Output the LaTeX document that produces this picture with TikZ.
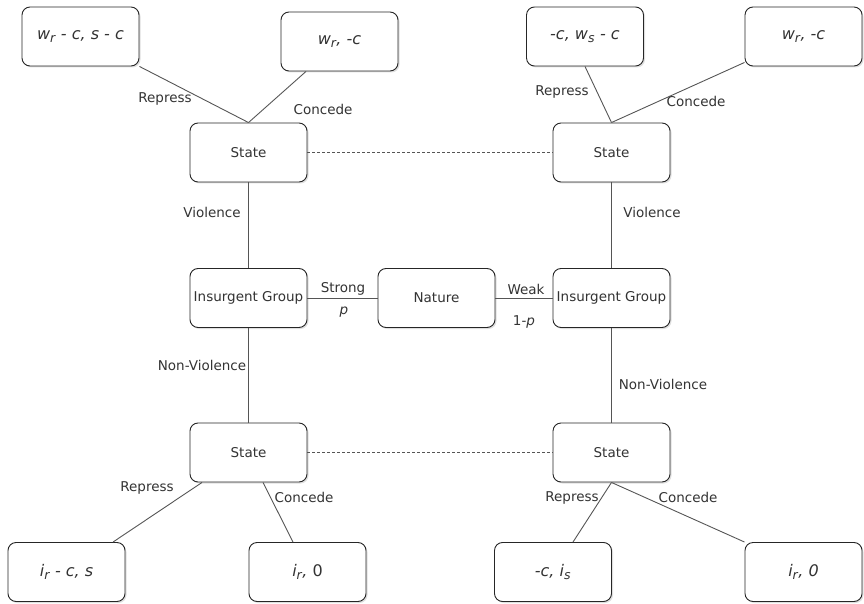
\documentclass[tikz,border=0pt]{standalone}
\usepackage{fontspec}
\setmainfont{DejaVu Sans}
\usetikzlibrary{shadows,calc}
\definecolor{edge}{HTML}{555555}
\definecolor{ink}{HTML}{333333}
\tikzset{
  box/.style={draw=black!85, line width=0.9pt, rounded corners=8pt, fill=white,
    minimum width=117pt, minimum height=59pt, inner sep=0pt, text=ink,
    font=\fontsize{13.5}{15}\selectfont,
    drop shadow={opacity=0.25, shadow xshift=1.5pt, shadow yshift=-1.5pt}},
  leaf/.style={box, font=\fontsize{16}{18}\selectfont\itshape},
  link/.style={draw=edge, line width=0.9pt},
  infoset/.style={draw=edge, line width=0.9pt, dash pattern=on 3pt off 2pt},
  lbl/.style={text=ink, font=\fontsize{13.5}{15}\selectfont, inner sep=0pt}
}
\newcommand{\subidx}[1]{\textsubscript{\fontsize{12.5}{13}\selectfont #1}}
\begin{document}
\begin{tikzpicture}[x=1pt, y=-1pt]
\useasboundingbox (0,0) rectangle (864,604);

% decision nodes
\node[box] (sTL) at (248.5,152.5) {State};
\node[box] (sTR) at (611.5,152.5) {State};
\node[box] (igL) at (248.5,298) {Insurgent Group};
\node[box] (nat) at (436.5,298) {Nature};
\node[box] (igR) at (611.5,298) {Insurgent Group};
\node[box] (sBL) at (248.5,452.5) {State};
\node[box] (sBR) at (611.5,452.5) {State};

% payoffs
\node[leaf] (tl1) at (80.5,36.5) {w\subidx{r} - c, s - c};
\node[leaf] (tl2) at (339.5,41.5) {w\subidx{r}, -c};
\node[leaf] (tr1) at (585,36.5) {-c, w\subidx{s} - c};
\node[leaf] (tr2) at (803.5,36.5) {w\subidx{r}, -c};
\node[leaf] (bl1) at (66.5,572) {i\subidx{r} - c, s};
\node[leaf] (bl2) at (307.5,572) {i\subidx{r}, \upshape 0};
\node[leaf] (br1) at (553,572) {-c, i\subidx{s}};
\node[leaf] (br2) at (803.5,572) {i\subidx{r}, 0};

% branches
\draw[link] (tl1.south east) -- (sTL.north);
\draw[link] ([xshift=-33.5pt]tl2.south) -- (sTL.north);
\draw[link] (tr1.south) -- (sTR.north);
\draw[link] ([yshift=4pt]tr2.south west) -- (sTR.north);

\draw[link] (sTL) -- (igL);
\draw[link] (igL) -- (sBL);
\draw[link] (sTR) -- (igR);
\draw[link] (igR) -- (sBR);
\draw[link] (igL) -- (nat);
\draw[link] (nat) -- (igR);

\draw[link] ([xshift=-46.5pt]sBL.south) -- ([xshift=46.5pt]bl1.north);
\draw[link] ([xshift=14.5pt]sBL.south) -- ([xshift=-14.5pt]bl2.north);
\draw[link] (sBR.south) -- ([xshift=20pt]br1.north);
\draw[link] (sBR.south) -- (br2.north west);

% information sets
\draw[infoset] (sTL) -- (sTR);
\draw[infoset] (sBL) -- (sBR);

% branch labels
\node[lbl] (r1) at (165,99) {Repress};
\node[lbl] (c1) at (323,109) {Concede};
\node[lbl] (r2) at (562,92) {Repress};
\node[lbl] (c2) at (696,101) {Concede};
\node[lbl] (v1) at (212,212) {Violence};
\node[lbl] (v2) at (652,212) {Violence};
\node[lbl] (st) at (343,289) {Strong};
\node[lbl] (pp) at (344,312) {\itshape p};
\node[lbl] (wk) at (526,289) {Weak};
\node[lbl] (qp) at (524,322) {1-\textit{p}};
\node[lbl] (n1) at (202,365) {Non-Violence};
\node[lbl] (n2) at (663,384) {Non-Violence};
\node[lbl] (r3) at (147,488) {Repress};
\node[lbl] (c3) at (304,497) {Concede};
\node[lbl] (r4) at (572,498) {Repress};
\node[lbl] (c4) at (688,497) {Concede};
\end{tikzpicture}
\end{document}
